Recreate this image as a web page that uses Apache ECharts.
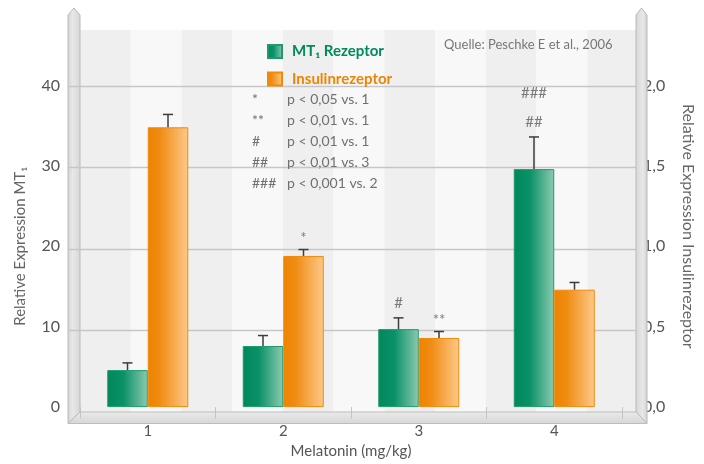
<!DOCTYPE html>
<html>
<head>
<meta charset="utf-8">
<script src="https://cdn.jsdelivr.net/npm/echarts@6/dist/echarts.min.js"></script>
<style>
  html, body { margin: 0; padding: 0; background: #fff; }
  #chart { width: 704px; height: 464px; }
</style>
</head>
<body>
<div id="chart"></div>
<script>
// Melatonin dose groups (mg/kg)
const categories = ['1', '2', '3', '4'];

// Relative MT1 receptor expression (left axis) with error bars
const mt1Values = [4.6, 7.6, 9.7, 29.6];
const mt1Errors = [0.9, 1.3, 1.4, 4.0];

// Relative insulin receptor expression (right axis) with error bars
const insulinValues = [1.74, 0.94, 0.43, 0.73];
const insulinErrors = [0.08, 0.04, 0.04, 0.045];

// Significance marks above each bar (bottom to top)
const mt1Marks = [[], [], ['#'], ['##', '###']];
const insulinMarks = [[], ['*'], ['**'], []];

// Axis ticks
const leftTicks = [0, 10, 20, 30, 40];
const rightTicks = [0, 0.5, 1.0, 1.5, 2.0];

// Significance legend
const noteSymbols = ['*', '**', '#', '##', '###'];
const noteTexts = ['p < 0,05 vs. 1', 'p < 0,01 vs. 1', 'p < 0,01 vs. 1', 'p < 0,01 vs. 3', 'p < 0,001 vs. 2'];

const sourceText = 'Quelle: Peschke E et al., 2006';

const FONT = 'Lato';
const GREEN = '#00895d';
const ORANGE = '#ef8400';
const BAR_W = 40.5;
// back wall reaches above the top tick: 46.8 left-axis units tall
const WALL_MAX = (412 - 30) / 8.15;

const greenFill = new echarts.graphic.LinearGradient(0, 0, 1, 0, [
  { offset: 0, color: '#00875a' },
  { offset: 0.4, color: '#0b9168' },
  { offset: 1, color: '#8ccbb0' }
]);
const orangeFill = new echarts.graphic.LinearGradient(0, 0, 1, 0, [
  { offset: 0, color: '#ee8300' },
  { offset: 0.3, color: '#ef8c12' },
  { offset: 1, color: '#fdc98a' }
]);

function errorBars(name, values, errors, marks, yAxisIndex, side) {
  return {
    type: 'custom',
    name: name,
    xAxisIndex: 1,
    yAxisIndex: yAxisIndex,
    z: 4,
    silent: true,
    data: values.map((v, k) => [k, v, errors[k]]),
    renderItem: function (params, api) {
      const i = api.value(0), v = api.value(1), e = api.value(2);
      const base = api.coord([i, v]);
      const top = api.coord([i, v + e]);
      const x = base[0] + side * BAR_W / 2;
      const children = [
        { type: 'line', shape: { x1: x, y1: base[1], x2: x, y2: top[1] },
          style: { stroke: '#3c3c3c', lineWidth: 1.5 } },
        { type: 'line', shape: { x1: x - 5, y1: top[1], x2: x + 5, y2: top[1] },
          style: { stroke: '#3c3c3c', lineWidth: 1.5 } }
      ];
      (marks[params.dataIndex] || []).forEach((m, n) => {
        // asterisks sit high in the glyph box, nudge them down
        const nudge = m.indexOf('*') >= 0 ? 4 : 0;
        children.push({
          type: 'text',
          style: {
            text: m, x: x, y: top[1] - 15 - n * 29 + nudge,
            align: 'center', verticalAlign: 'middle',
            font: '15px ' + FONT, fill: '#7a7a7a'
          }
        });
      });
      return { type: 'group', children: children };
    }
  };
}

const chart = echarts.init(document.getElementById('chart'), null, { renderer: 'canvas' });

const graphics = [
  // side walls and floor of the box
  {
    type: 'polygon', z: 1,
    shape: { points: [[68, 15], [74, 8], [80, 15], [80, 412], [68, 423.5]] },
    style: {
      fill: new echarts.graphic.LinearGradient(0, 0, 1, 0, [
        { offset: 0, color: '#d2d2d2' }, { offset: 0.4, color: '#e8e8e8' }, { offset: 1, color: '#d6d6d6' }
      ]),
      stroke: '#b9b9b9', lineWidth: 1
    }
  },
  {
    type: 'polygon', z: 1,
    shape: { points: [[636, 15], [641.5, 8], [647, 15], [647, 423.5], [636, 412]] },
    style: {
      fill: new echarts.graphic.LinearGradient(0, 0, 1, 0, [
        { offset: 0, color: '#d6d6d6' }, { offset: 0.6, color: '#e8e8e8' }, { offset: 1, color: '#d2d2d2' }
      ]),
      stroke: '#b9b9b9', lineWidth: 1
    }
  },
  {
    type: 'polygon', z: 1,
    shape: { points: [[80, 412], [636, 412], [647, 423.5], [68, 423.5]] },
    style: {
      fill: new echarts.graphic.LinearGradient(0, 0, 0, 1, [
        { offset: 0, color: '#ebebeb' }, { offset: 1, color: '#d6d6d6' }
      ]),
      stroke: '#bdbdbd', lineWidth: 1
    }
  },
  {
    type: 'text', z: 10, left: 444, top: 38,
    style: { text: sourceText, font: '13px ' + FONT, fill: '#777' }
  }
];

noteSymbols.forEach((s, k) => {
  graphics.push({
    type: 'text', z: 10, left: 252, top: 92 + k * 21,
    style: { text: s, font: '14px ' + FONT, fill: '#707070' }
  });
  graphics.push({
    type: 'text', z: 10, left: 287, top: 92 + k * 21,
    style: { text: noteTexts[k], font: '14px ' + FONT, fill: '#707070' }
  });
});

const hiddenAxis = {
  axisLine: { show: false }, axisTick: { show: false }, axisLabel: { show: false }
};

const option = {
  backgroundColor: '#ffffff',
  animation: false,
  textStyle: { fontFamily: FONT },
  grid: [
    // striped back wall
    { left: 80, right: 66, top: 30, bottom: 52 },
    // data area
    { left: 80, right: 73, top: 85.5, bottom: 52 },
    // horizontal gridlines, running across the left wall
    { left: 68, right: 68, top: 30, bottom: 52 }
  ],
  legend: {
    orient: 'vertical', left: 262, top: 39,
    itemWidth: 14, itemHeight: 13, itemGap: 12.5,
    icon: 'rect', selectedMode: false,
    textStyle: { fontFamily: FONT, fontWeight: 'bold', fontSize: 15, padding: [0, 0, 0, 5] },
    data: [
      { name: 'MT₁ Rezeptor', textStyle: { color: GREEN } },
      { name: 'Insulinrezeptor', textStyle: { color: ORANGE } }
    ]
  },
  xAxis: [
    Object.assign({
      type: 'value', gridIndex: 0, min: 0, max: 11, interval: 1,
      splitLine: { show: false },
      splitArea: { show: true, areaStyle: { color: ['#efefef', '#f8f8f8'] } }
    }, hiddenAxis),
    {
      type: 'category', gridIndex: 1, data: categories, z: 5,
      axisLine: { show: false },
      axisTick: { show: true, length: 11.5, lineStyle: { color: '#c4c4c4', width: 1 } },
      axisLabel: { color: '#555', fontSize: 15, margin: 17, fontFamily: FONT },
      name: 'Melatonin (mg/kg)', nameLocation: 'middle', nameGap: 36,
      nameTextStyle: { color: '#555', fontSize: 15, fontFamily: FONT }
    },
    Object.assign({
      type: 'value', gridIndex: 2, min: 0, max: 1, splitLine: { show: false }
    }, hiddenAxis)
  ],
  yAxis: [
    Object.assign({
      type: 'value', gridIndex: 0, min: 0, max: WALL_MAX, interval: 10,
      splitLine: { show: false }
    }, hiddenAxis),
    {
      type: 'value', gridIndex: 1, position: 'left',
      min: leftTicks[0], max: leftTicks[leftTicks.length - 1], interval: 10,
      axisLine: { show: false }, axisTick: { show: false }, splitLine: { show: false },
      axisLabel: { color: '#555', fontSize: 16, margin: 20, fontFamily: FONT },
      name: 'Relative Expression MT₁', nameLocation: 'middle', nameGap: 52, nameRotate: 90,
      nameTextStyle: { color: '#666', fontSize: 15, fontFamily: FONT }
    },
    {
      type: 'value', gridIndex: 1, position: 'right',
      min: rightTicks[0], max: rightTicks[rightTicks.length - 1], interval: 0.5,
      axisLine: { show: false }, axisTick: { show: false }, splitLine: { show: false },
      axisLabel: {
        color: '#555', fontSize: 16, margin: 21, fontFamily: FONT,
        formatter: v => v.toFixed(1).replace('.', ',')
      },
      name: 'Relative Expression Insulinrezeptor', nameLocation: 'middle', nameGap: 58, nameRotate: -90,
      nameTextStyle: { color: '#666', fontSize: 16, fontFamily: FONT, padding: [0, 40, 0, 0] }
    },
    Object.assign({
      type: 'value', gridIndex: 2, min: 0, max: WALL_MAX, interval: 10, z: 2,
      splitLine: { show: true, showMaxLine: false, showMinLine: false,
        lineStyle: { color: '#c6c6c6', width: 1.3 } }
    }, hiddenAxis)
  ],
  series: [
    {
      name: 'MT₁ Rezeptor', type: 'bar', xAxisIndex: 1, yAxisIndex: 1,
      barWidth: BAR_W, barGap: '0%',
      itemStyle: { color: greenFill, borderColor: '#1f9a6f', borderWidth: 1 },
      data: mt1Values
    },
    {
      name: 'Insulinrezeptor', type: 'bar', xAxisIndex: 1, yAxisIndex: 2,
      barWidth: BAR_W, barGap: '0%',
      itemStyle: { color: orangeFill, borderColor: '#ef8a0a', borderWidth: 1 },
      data: insulinValues
    },
    errorBars('MT₁ Fehler', mt1Values, mt1Errors, mt1Marks, 1, -1),
    errorBars('Insulin Fehler', insulinValues, insulinErrors, insulinMarks, 2, 1)
  ],
  graphic: graphics
};

chart.setOption(option);
</script>
</body>
</html>
